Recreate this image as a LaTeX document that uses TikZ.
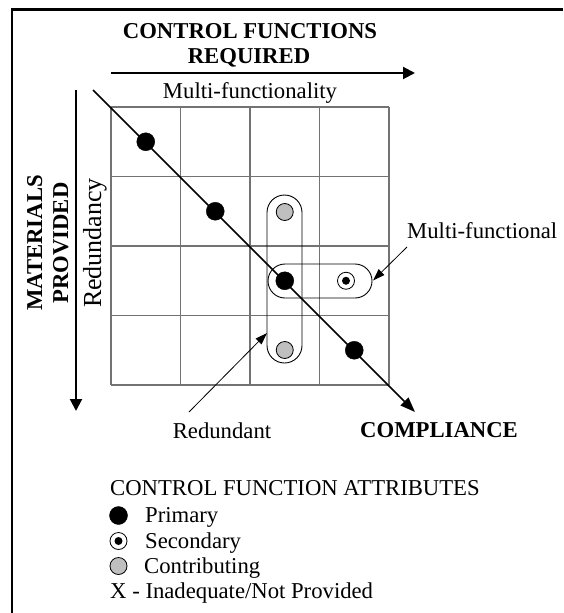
\documentclass[tikz,border=0pt]{standalone}
\usepackage{fontspec}
\setmainfont{Liberation Serif}
\usetikzlibrary{arrows.meta}
\newcommand\fsz{\fontsize{22.7pt}{26pt}\selectfont}
\tikzset{
  gridline/.style={draw=black!55, line width=1.2pt},
  bigarrow/.style={line width=2pt, -{Triangle[length=12pt,width=12pt]}},
  diagarrow/.style={line width=1.6pt, -{Triangle[length=15pt,width=11pt]}},
  thinarrow/.style={line width=0.8pt, -{Triangle[length=12pt,width=8pt]}},
  pill/.style={draw=black, line width=0.9pt},
  primary/.style={circle, fill=black, draw=black, minimum size=18pt, inner sep=0pt},
  contrib/.style={circle, fill=black!25, draw=black, line width=0.8pt, minimum size=17pt, inner sep=0pt},
  secondary/.style={circle, fill=white, draw=black, line width=0.8pt, minimum size=17pt, inner sep=0pt,
    path picture={\fill[black] (path picture bounding box.center) circle (4pt);}},
  txt/.style={inner sep=0pt, anchor=base, font=\fsz},
  boldtxt/.style={inner sep=0pt, anchor=base, font=\fsz\bfseries},
}
\begin{document}
\begin{tikzpicture}[x=1pt,y=-1pt]
\useasboundingbox (0,0) rectangle (563,613);
% frame
\draw[line width=2.5pt] (563,9.5) -- (12,9.5) -- (12,613);
% titles
\node[boldtxt] (t1) at (250,38) {CONTROL FUNCTIONS};
\node[boldtxt] (t2) at (249,63) {REQUIRED};
\coordinate (ta1) at (111,73);
\coordinate (ta2) at (415,73);
\draw[bigarrow] (ta1) -- (ta2);
\node[txt] (mf) at (250,98) {Multi-functionality};
% left labels
\node[boldtxt, rotate=90] (m1) at (42,243) {MATERIALS};
\node[boldtxt, rotate=90] (m2) at (68,243) {PROVIDED};
\node[txt, rotate=90, font=\fontsize{26pt}{28pt}\selectfont] (red) at (101,243) {Redundancy};
\coordinate (la1) at (76,90);
\coordinate (la2) at (76,411);
\draw[bigarrow] (la1) -- (la2);
% grid
\foreach \i in {0,...,4} {
  \draw[gridline] (111+69.5*\i,107) -- (111+69.5*\i,385);
  \draw[gridline] (111,107+69.5*\i) -- (389,107+69.5*\i);
}
% pills
\draw[pill, rounded corners=17.5pt] (267,195) rectangle (302,363);
\draw[pill, rounded corners=17pt] (268,264) rectangle (372,298);
% diagonal
\coordinate (dstart) at (93,90);
\coordinate (dend) at (415,412);
\draw[diagarrow] (dstart) -- (dend);
% dots
\node[primary] (p1) at (145.75,141.75) {};
\node[primary] (p2) at (215.25,211.25) {};
\node[primary] (p3) at (284.75,280.75) {};
\node[primary] (p4) at (354.25,350.25) {};
\node[contrib] (c1) at (284.75,212) {};
\node[contrib] (c2) at (284.75,350) {};
\node[secondary] (s1) at (346,280.75) {};
% labels with arrows
\node[txt, anchor=base west] (mfl) at (407,238) {Multi-functional};
\coordinate (mfa1) at (407,247);
\coordinate (mfa2) at (373,280.5);
\draw[thinarrow] (mfa1) -- (mfa2);
\node[txt] (rdl) at (222,438) {Redundant};
\coordinate (rda1) at (189,412);
\coordinate (rda2) at (267,333);
\draw[thinarrow] (rda1) -- (rda2);
\node[boldtxt, anchor=base west] (comp) at (360,437) {COMPLIANCE};
% legend
\node[txt, anchor=base west] (lt) at (110,495) {CONTROL FUNCTION ATTRIBUTES};
\node[primary] (lp) at (118.5,515.5) {};
\node[txt, anchor=base west] (lpt) at (145,522) {Primary};
\node[secondary] (ls) at (118.5,541) {};
\node[txt, anchor=base west] (lst) at (145,548) {Secondary};
\node[contrib] (lc) at (118.5,566) {};
\node[txt, anchor=base west] (lct) at (144,573) {Contributing};
\node[txt, anchor=base west] (lx) at (110,598) {X - Inadequate/Not Provided};
\end{tikzpicture}
\end{document}
